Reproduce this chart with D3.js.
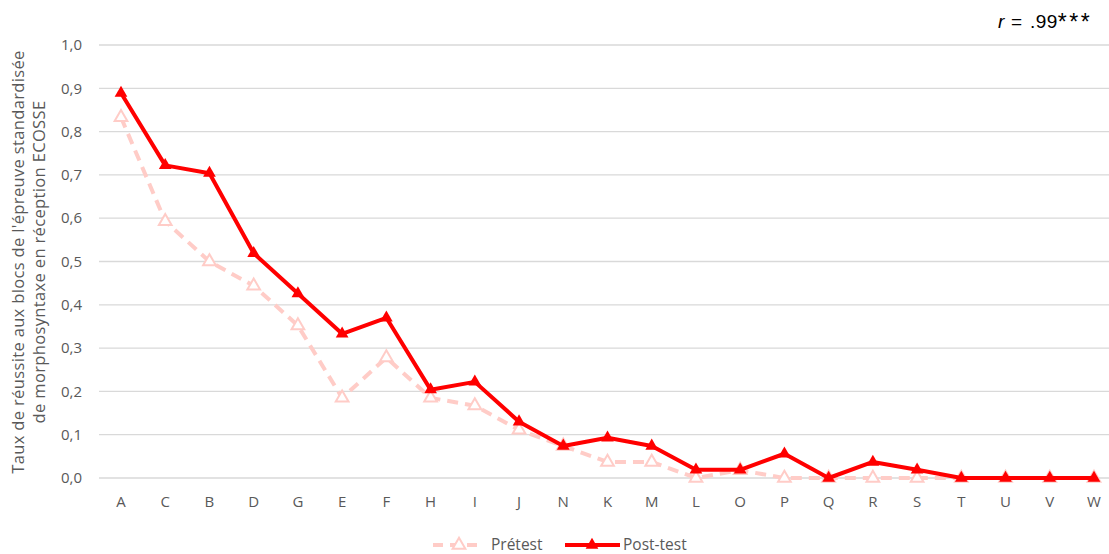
<!DOCTYPE html>
<html><head><meta charset="utf-8">
<script src="https://cdn.jsdelivr.net/npm/d3@7"></script>
<style>body{margin:0;background:#fff}svg{display:block}</style>
</head><body>
<svg id="c" width="1109" height="554"></svg>
<script>
const categories = ["A","C","B","D","G","E","F","H","I","J","N","K","M","L","O","P","Q","R","S","T","U","V","W"];
const pretest = [0.833,0.593,0.50,0.444,0.352,0.185,0.278,0.185,0.167,0.111,0.074,0.037,0.037,0,0.018,0,0,0,0,0,0,0,0];
const posttest = [0.889,0.722,0.704,0.519,0.426,0.333,0.370,0.204,0.222,0.130,0.074,0.093,0.074,0.019,0.019,0.056,0,0.037,0.019,0,0,0,0];
const yTicks = [0,0.1,0.2,0.3,0.4,0.5,0.6,0.7,0.8,0.9,1.0];
const seriesNames = ["Prétest","Post-test"];

const svg = d3.select("#c");
const font = "'Open Sans', 'Noto Sans', sans-serif";
const x = d3.scalePoint().domain(categories).range([121,1094]);
const y = d3.scaleLinear().domain([0,1]).range([478,45]);

// grid
svg.append("g").selectAll("line").data(yTicks).join("line")
  .attr("x1",99).attr("x2",1116).attr("y1",d=>y(d)).attr("y2",d=>y(d))
  .attr("stroke","#d9d9d9").attr("stroke-width",1.3);

// y tick labels
svg.append("g").selectAll("text").data(yTicks).join("text")
  .attr("x",82).attr("y",d=>y(d)).attr("dy","0.35em").attr("text-anchor","end")
  .attr("font-family",font).attr("font-size",15).attr("fill","#595959")
  .text(d=>d3.format(".1f")(d).replace(".",","));

// x labels
svg.append("g").selectAll("text").data(categories).join("text")
  .attr("x",d=>x(d)).attr("y",501.5).attr("dy","0.35em").attr("text-anchor","middle")
  .attr("font-family",font).attr("font-size",15).attr("fill","#595959").text(d=>d);

// y axis title
const yt = svg.append("text").attr("transform","translate(0,262) rotate(-90)")
  .attr("text-anchor","middle").attr("font-family",font).attr("font-size",16.5)
  .attr("letter-spacing",0.35).attr("fill","#595959");
yt.append("tspan").attr("x",0).attr("y",24).text("Taux de réussite aux blocs de l'épreuve standardisée");
yt.append("tspan").attr("x",0).attr("y",45).text("de morphosyntaxe en réception ECOSSE");

const line = d3.line().x((d,i)=>x(categories[i])).y(d=>y(d));
const tri = d3.symbol().type(d3.symbolTriangle).size(70);

// pretest
svg.append("path").datum(pretest).attr("d",line).attr("fill","none")
  .attr("stroke","#ffccc7").attr("stroke-width",4).attr("stroke-dasharray","11,7").attr("stroke-linejoin","round");
svg.append("g").selectAll("path").data(pretest).join("path")
  .attr("d",tri).attr("transform",(d,i)=>`translate(${x(categories[i])},${y(d)})`)
  .attr("fill","#fff").attr("stroke","#ffccc7").attr("stroke-width",2);

// posttest
svg.append("path").datum(posttest).attr("d",line).attr("fill","none")
  .attr("stroke","#ff0000").attr("stroke-width",4).attr("stroke-linejoin","round");
svg.append("g").selectAll("path").data(posttest).join("path")
  .attr("d",tri).attr("transform",(d,i)=>`translate(${x(categories[i])},${y(d)})`)
  .attr("fill","#ff0000");

// legend
const lg = svg.append("g");
lg.append("line").attr("x1",433).attr("x2",482).attr("y1",545).attr("y2",545)
  .attr("stroke","#ffccc7").attr("stroke-width",4).attr("stroke-dasharray","10,7");
lg.append("path").attr("d",tri).attr("transform","translate(459,545)")
  .attr("fill","#fff").attr("stroke","#ffccc7").attr("stroke-width",2);
lg.append("text").attr("x",491).attr("y",545).attr("dy","0.35em")
  .attr("font-family",font).attr("font-size",15.5).attr("fill","#595959").text(seriesNames[0]);
lg.append("line").attr("x1",565).attr("x2",620).attr("y1",545).attr("y2",545)
  .attr("stroke","#ff0000").attr("stroke-width",4);
lg.append("path").attr("d",tri).attr("transform","translate(592,545)").attr("fill","#ff0000");
lg.append("text").attr("x",623).attr("y",545).attr("dy","0.35em")
  .attr("font-family",font).attr("font-size",15.5).attr("fill","#595959").text(seriesNames[1]);

// r annotation
const rt = svg.append("text").attr("x",998).attr("y",28).attr("text-anchor","start")
  .attr("font-family","'Liberation Sans', Arial, sans-serif").attr("font-size",19).attr("fill","#000");
rt.append("tspan").attr("font-style","italic").text("r");
rt.append("tspan").attr("letter-spacing",1.3).text(" = ");
rt.append("tspan").attr("letter-spacing",0.5).text(".99");
rt.append("tspan").attr("font-size",23).attr("letter-spacing",2.5).attr("dy",2).text("***");
</script>
</body></html>
